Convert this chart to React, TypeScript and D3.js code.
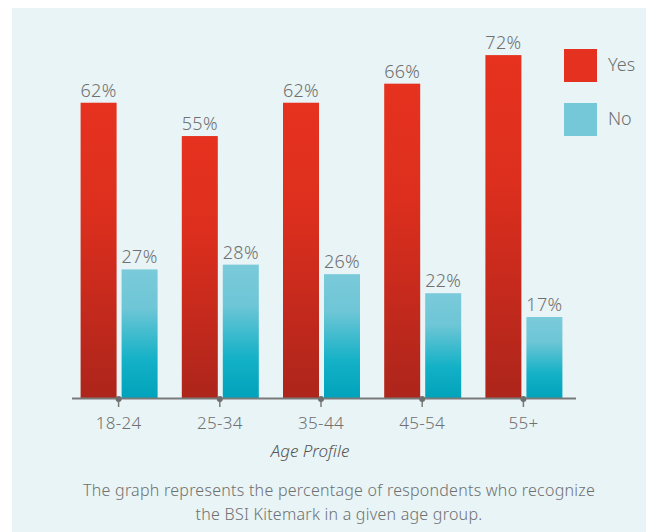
import React from "react";
import * as d3 from "d3";

const categories = ["18-24", "25-34", "35-44", "45-54", "55+"];
const yesValues = [62, 55, 62, 66, 72];
const noValues = [27, 28, 26, 22, 17];
const seriesNames = ["Yes", "No"];
const axisTitle = "Age Profile";
const captionLines = [
  "The graph represents the percentage of respondents who recognize",
  "the BSI Kitemark in a given age group.",
];

const W = 646;
const H = 532;
const FONT = "'Noto Sans', 'Open Sans', sans-serif";
const TEXT = "#707070";

export default function App() {
  const x = d3.scaleBand<string>().domain(categories).range([68, 574]).padding(0);
  const inner = d3
    .scaleOrdinal<string, number>()
    .domain(seriesNames)
    .range([-38, 3]);
  const barW = 36;
  const y = d3.scaleLinear().domain([0, 80]).range([398, 17]);

  const series = [
    { name: "Yes", values: yesValues, fill: "url(#gradYes)", legend: "#e5311f" },
    { name: "No", values: noValues, fill: "url(#gradNo)", legend: "#74c8d8" },
  ];

  return (
    <svg
      width={W}
      height={H}
      style={{ position: "absolute", left: 0, top: 0, display: "block" }}
    >
      <defs>
        <linearGradient id="gradYes" x1="0" y1="0" x2="0" y2="1">
          <stop offset="0" stopColor="#e6321f" />
          <stop offset="0.35" stopColor="#de2f1e" />
          <stop offset="1" stopColor="#ad251b" />
        </linearGradient>
        <linearGradient id="gradNo" x1="0" y1="0" x2="0" y2="1">
          <stop offset="0" stopColor="#7acada" />
          <stop offset="0.3" stopColor="#6ec6d6" />
          <stop offset="0.7" stopColor="#14b1c7" />
          <stop offset="1" stopColor="#00a3bb" />
        </linearGradient>
      </defs>
      <rect x={12} y={8} width={W - 12} height={H - 8} fill="#e8f4f6" />

      {series.map((s) => (
        <g key={s.name}>
          {categories.map((c, i) => {
            const cx = (x(c) ?? 0) + x.bandwidth() / 2;
            const bx = cx + inner(s.name);
            const top = y(s.values[i]);
            return (
              <g key={c}>
                <rect x={bx} y={top} width={barW} height={y(0) - top} fill={s.fill} />
                <text
                  x={bx + barW / 2}
                  y={top - 6}
                  textAnchor="middle"
                  fontFamily={FONT}
                  fontSize={18}
                  fontWeight={300}
                  letterSpacing={0.3}
                  fill={TEXT}
                >
                  {s.values[i]}%
                </text>
              </g>
            );
          })}
        </g>
      ))}

      <line x1={72} x2={576} y1={398.5} y2={398.5} stroke="#7a7a7a" strokeWidth={2} />
      {categories.map((c) => {
        const cx = (x(c) ?? 0) + x.bandwidth() / 2;
        return (
          <g key={c}>
            <line x1={cx} x2={cx} y1={399} y2={407} stroke="#7a7a7a" strokeWidth={1.5} />
            <circle cx={cx} cy={399} r={3} fill="#6f6f6f" />
            <text
              x={cx}
              y={429}
              textAnchor="middle"
              fontFamily={FONT}
              fontSize={17}
              fontWeight={300}
              letterSpacing={0.3}
              fill={TEXT}
            >
              {c}
            </text>
          </g>
        );
      })}

      <text
        x={310}
        y={457}
        textAnchor="middle"
        fontFamily={FONT}
        fontSize={17}
        fontStyle="italic"
        fontWeight={300}
        fill="#555"
      >
        {axisTitle}
      </text>

      {series.map((s, i) => (
        <g key={s.name} transform={`translate(564, ${49 + i * 54})`}>
          <rect width={33} height={33} fill={s.legend} />
          <text
            x={44}
            y={22}
            fontFamily={FONT}
            fontSize={18}
            fontWeight={300}
            fill={TEXT}
          >
            {s.name}
          </text>
        </g>
      ))}

      {captionLines.map((line, i) => (
        <text
          key={i}
          x={339}
          y={496 + i * 24}
          textAnchor="middle"
          fontFamily={FONT}
          fontSize={16}
          fontWeight={300}
          letterSpacing={0.25}
          fill={TEXT}
        >
          {line}
        </text>
      ))}
    </svg>
  );
}
